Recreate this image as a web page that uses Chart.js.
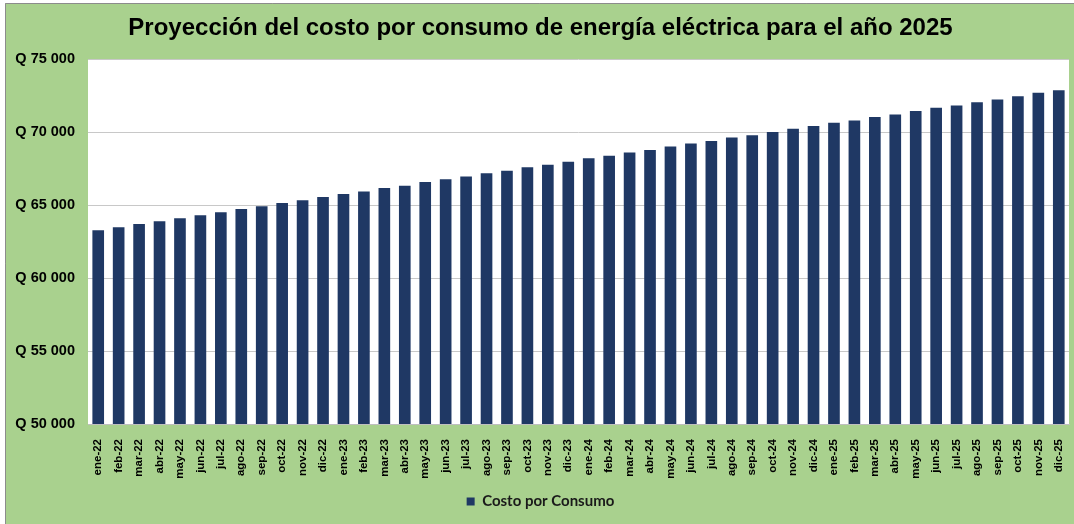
<!DOCTYPE html>
<html lang="es">
  <head>
    <meta charset="UTF-8" />
    <title>Proyección del costo por consumo de energía eléctrica</title>
    <script src="https://cdn.jsdelivr.net/npm/chart.js"></script>
    <style>
      html, body { margin: 0; padding: 0; background: #ffffff; }
      .chart-box { width: 1074px; height: 524px; position: relative; }
    </style>
  </head>
  <body>
    <div class="chart-box">
      <canvas id="costoChart"></canvas>
    </div>
    <script>
      // Meses proyectados (ene-22 a dic-25)
      const meses = [
        "ene-22", "feb-22", "mar-22", "abr-22", "may-22", "jun-22",
        "jul-22", "ago-22", "sep-22", "oct-22", "nov-22", "dic-22",
        "ene-23", "feb-23", "mar-23", "abr-23", "may-23", "jun-23",
        "jul-23", "ago-23", "sep-23", "oct-23", "nov-23", "dic-23",
        "ene-24", "feb-24", "mar-24", "abr-24", "may-24", "jun-24",
        "jul-24", "ago-24", "sep-24", "oct-24", "nov-24", "dic-24",
        "ene-25", "feb-25", "mar-25", "abr-25", "may-25", "jun-25",
        "jul-25", "ago-25", "sep-25", "oct-25", "nov-25", "dic-25",
      ];

      // Costo por consumo (Q)
      const costoPorConsumo = [
        63270, 63480, 63700, 63890, 64090, 64300,
        64500, 64730, 64910, 65140, 65320, 65545,
        65750, 65930, 66160, 66320, 66570, 66770,
        66955, 67180, 67340, 67590, 67750, 67955,
        68205, 68365, 68590, 68775, 69000, 69205,
        69385, 69615, 69775, 70000, 70225, 70410,
        70635, 70795, 71020, 71205, 71430, 71660,
        71820, 72045, 72225, 72455, 72680, 72865,
      ];

      // Marcas del eje de valores
      const ejeMin = 50000;
      const ejeMax = 75000;
      const ejePaso = 5000;

      const formatoQuetzal = (v) =>
        "Q " + String(v).replace(/\B(?=(\d{3})+(?!\d))/g, " ");

      // fondo verde del gráfico y área blanca de trazado
      const fondo = {
        id: "fondo",
        beforeDraw(chart) {
          const { ctx, width, height, chartArea } = chart;
          ctx.save();
          ctx.fillStyle = "#ffffff";
          ctx.fillRect(0, 0, width, height);
          ctx.fillStyle = "#a9d18e";
          ctx.fillRect(5, 3, width - 5, height - 3);
          ctx.strokeStyle = "#8c8c8c";
          ctx.lineWidth = 1;
          ctx.beginPath();
          ctx.moveTo(5.5, height);
          ctx.lineTo(5.5, 3.5);
          ctx.lineTo(width, 3.5);
          ctx.stroke();
          ctx.fillStyle = "#ffffff";
          ctx.fillRect(
            chartArea.left,
            chartArea.top,
            chartArea.right - chartArea.left,
            chartArea.bottom - chartArea.top
          );
          ctx.restore();
        },
      };

      const ctx = document.getElementById("costoChart").getContext("2d");
      new Chart(ctx, {
        type: "bar",
        data: {
          labels: meses,
          datasets: [
            {
              label: "Costo por Consumo",
              data: costoPorConsumo,
              backgroundColor: "#1f3864",
              borderWidth: 0,
              barPercentage: 0.57,
              categoryPercentage: 1.0,
            },
          ],
        },
        options: {
          responsive: true,
          maintainAspectRatio: false,
          animation: false,
          layout: {
            padding: { left: 12, right: 5, top: 5, bottom: 5 },
          },
          scales: {
            x: {
              grid: { display: false },
              border: { display: true, color: "#bfbfbf", width: 1 },
              ticks: {
                autoSkip: false,
                minRotation: 90,
                maxRotation: 90,
                padding: 7,
                color: "#000000",
                font: { family: "Liberation Sans", size: 11.5, weight: "bold" },
              },
              afterFit(scale) {
                scale.height = 60;
                scale.paddingLeft = 0;
                scale.paddingRight = 0;
              },
            },
            y: {
              min: ejeMin,
              max: ejeMax,
              grid: { color: "#c8c8c8", lineWidth: 1, drawTicks: false },
              border: { display: false },
              ticks: {
                stepSize: ejePaso,
                padding: 13,
                color: "#000000",
                font: { family: "Liberation Sans", size: 14.5, weight: "bold" },
                callback: (v) => formatoQuetzal(v),
              },
              afterFit(scale) {
                scale.width = 76;
              },
            },
          },
          plugins: {
            title: {
              display: true,
              text: "Proyección del costo por consumo de energía eléctrica para el año 2025",
              color: "#000000",
              font: { family: "Liberation Sans", size: 24, weight: "bold", lineHeight: 1.2 },
              padding: { top: 8.6, bottom: 16.6 },
            },
            legend: {
              display: true,
              position: "bottom",
              labels: {
                boxWidth: 8,
                boxHeight: 8,
                padding: 10,
                color: "#1a1a1a",
                font: { family: "Lato", size: 15, weight: "bold" },
              },
            },
            tooltip: { enabled: false },
          },
        },
        plugins: [fondo],
      });
    </script>
  </body>
</html>
